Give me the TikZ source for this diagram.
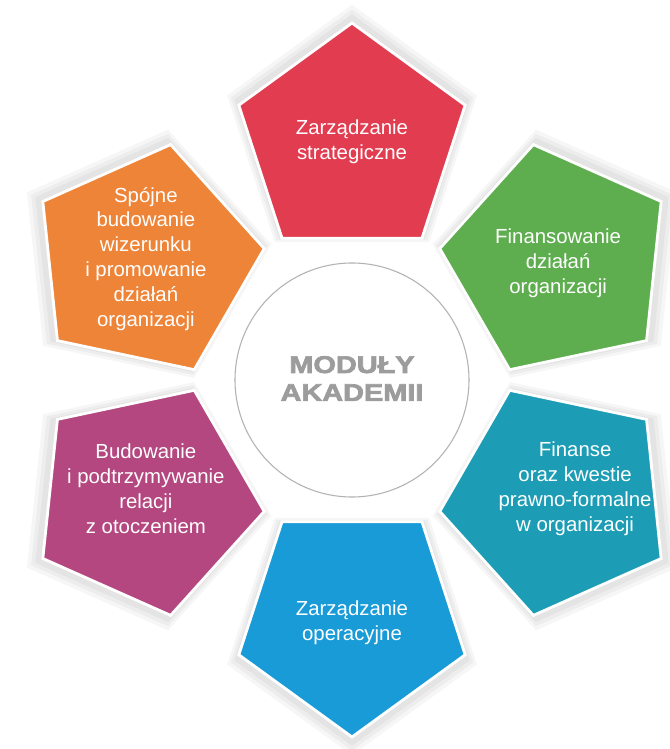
\documentclass[tikz,border=0pt]{standalone}
\usepackage{fontspec}
\setmainfont{Liberation Sans}
\newfontfamily\grubyfont[FakeStretch=1.2,FakeBold=3]{Liberation Sans}
\usetikzlibrary{shapes.geometric}

\definecolor{kolCzerwony}{HTML}{E23C50}
\definecolor{kolZielony}{HTML}{5EAE4F}
\definecolor{kolMorski}{HTML}{1C9DB5}
\definecolor{kolNiebieski}{HTML}{199BD7}
\definecolor{kolFiolet}{HTML}{B4477F}
\definecolor{kolPomarancz}{HTML}{EE8437}
\definecolor{kolSzary}{HTML}{9C9C9C}

\tikzset{
	modul/.style={regular polygon, regular polygon sides=5, minimum size=4.76cm, inner sep=0pt, draw=white, line width=1.6pt, fill=#1},
	cien/.style={regular polygon, regular polygon sides=5, minimum size=#1, inner sep=0pt, fill=black, opacity=0.035},
	modtekst/.style={text=white, align=center, font=\fontsize{11.6}{14.2}\selectfont}
}

\begin{document}
\begin{tikzpicture}
			%%%%% START %%%%%
			
			\useasboundingbox[fill=white] (-7.04, 7.6) rectangle (6.34, -7.38);
			
			% cienie
			\node[cien=4.95cm, shape border rotate=0] (cienA) at (90:4.84) {};
			\node[cien=5.1cm, shape border rotate=0] (cienAA) at (90:4.86) {};
			\node[cien=5.25cm, shape border rotate=0] (cienAAA) at (90:4.88) {};
			\node[cien=4.95cm, shape border rotate=-60] (cienB) at (30:4.84) {};
			\node[cien=5.1cm, shape border rotate=-60] (cienBB) at (30:4.86) {};
			\node[cien=5.25cm, shape border rotate=-60] (cienBBB) at (30:4.88) {};
			\node[cien=4.95cm, shape border rotate=-120] (cienC) at (-30:4.84) {};
			\node[cien=5.1cm, shape border rotate=-120] (cienCC) at (-30:4.86) {};
			\node[cien=5.25cm, shape border rotate=-120] (cienCCC) at (-30:4.88) {};
			\node[cien=4.95cm, shape border rotate=-180] (cienD) at (-90:4.84) {};
			\node[cien=5.1cm, shape border rotate=-180] (cienDD) at (-90:4.86) {};
			\node[cien=5.25cm, shape border rotate=-180] (cienDDD) at (-90:4.88) {};
			\node[cien=4.95cm, shape border rotate=-240] (cienE) at (-150:4.84) {};
			\node[cien=5.1cm, shape border rotate=-240] (cienEE) at (-150:4.86) {};
			\node[cien=5.25cm, shape border rotate=-240] (cienEEE) at (-150:4.88) {};
			\node[cien=4.95cm, shape border rotate=60] (cienF) at (150:4.84) {};
			\node[cien=5.1cm, shape border rotate=60] (cienFF) at (150:4.86) {};
			\node[cien=5.25cm, shape border rotate=60] (cienFFF) at (150:4.88) {};
			
			% pieciokaty
			\node[modul=kolCzerwony, shape border rotate=0] (zarzStrat) at (90:4.76) {};
			\node[modul=kolZielony, shape border rotate=-60] (finDzial) at (30:4.76) {};
			\node[modul=kolMorski, shape border rotate=-120] (finPrawne) at (-30:4.76) {};
			\node[modul=kolNiebieski, shape border rotate=-180] (zarzOper) at (-90:4.76) {};
			\node[modul=kolFiolet, shape border rotate=-240] (relacje) at (-150:4.76) {};
			\node[modul=kolPomarancz, shape border rotate=60] (wizerunek) at (150:4.76) {};
			
			\node[modtekst] (zarzStratTxt) at (zarzStrat.center) {Zarządzanie\\strategiczne};
			\node[modtekst] (finDzialTxt) at ([yshift=-0.04cm]finDzial.center) {Finansowanie\\działań\\organizacji};
			\node[modtekst] (finPrawneTxt) at ([xshift=0.34cm, yshift=0.2cm]finPrawne.center) {Finanse\\oraz kwestie\\prawno-formalne\\w organizacji};
			\node[modtekst] (zarzOperTxt) at ([yshift=-0.1cm]zarzOper.center) {Zarządzanie\\operacyjne};
			\node[modtekst] (relacjeTxt) at ([yshift=0.2cm]relacje.center) {Budowanie\\i podtrzymywanie\\relacji\\z otoczeniem};
			\node[modtekst] (wizerunekTxt) at ([yshift=0.04cm]wizerunek.center) {Spójne\\budowanie\\wizerunku\\i promowanie\\działań\\organizacji};
			
			% srodek
			\draw[fill=white, draw=black!30, line width=0.6pt] (0, 0) circle (2.34);
			\node[text=kolSzary, align=center, font=\grubyfont\bfseries\fontsize{13.7}{15.9}\selectfont] (srodek) at (0, 0.03) {MODUŁY\\AKADEMII};
			
			%%%%% END %%%%%
\end{tikzpicture}
\end{document}
